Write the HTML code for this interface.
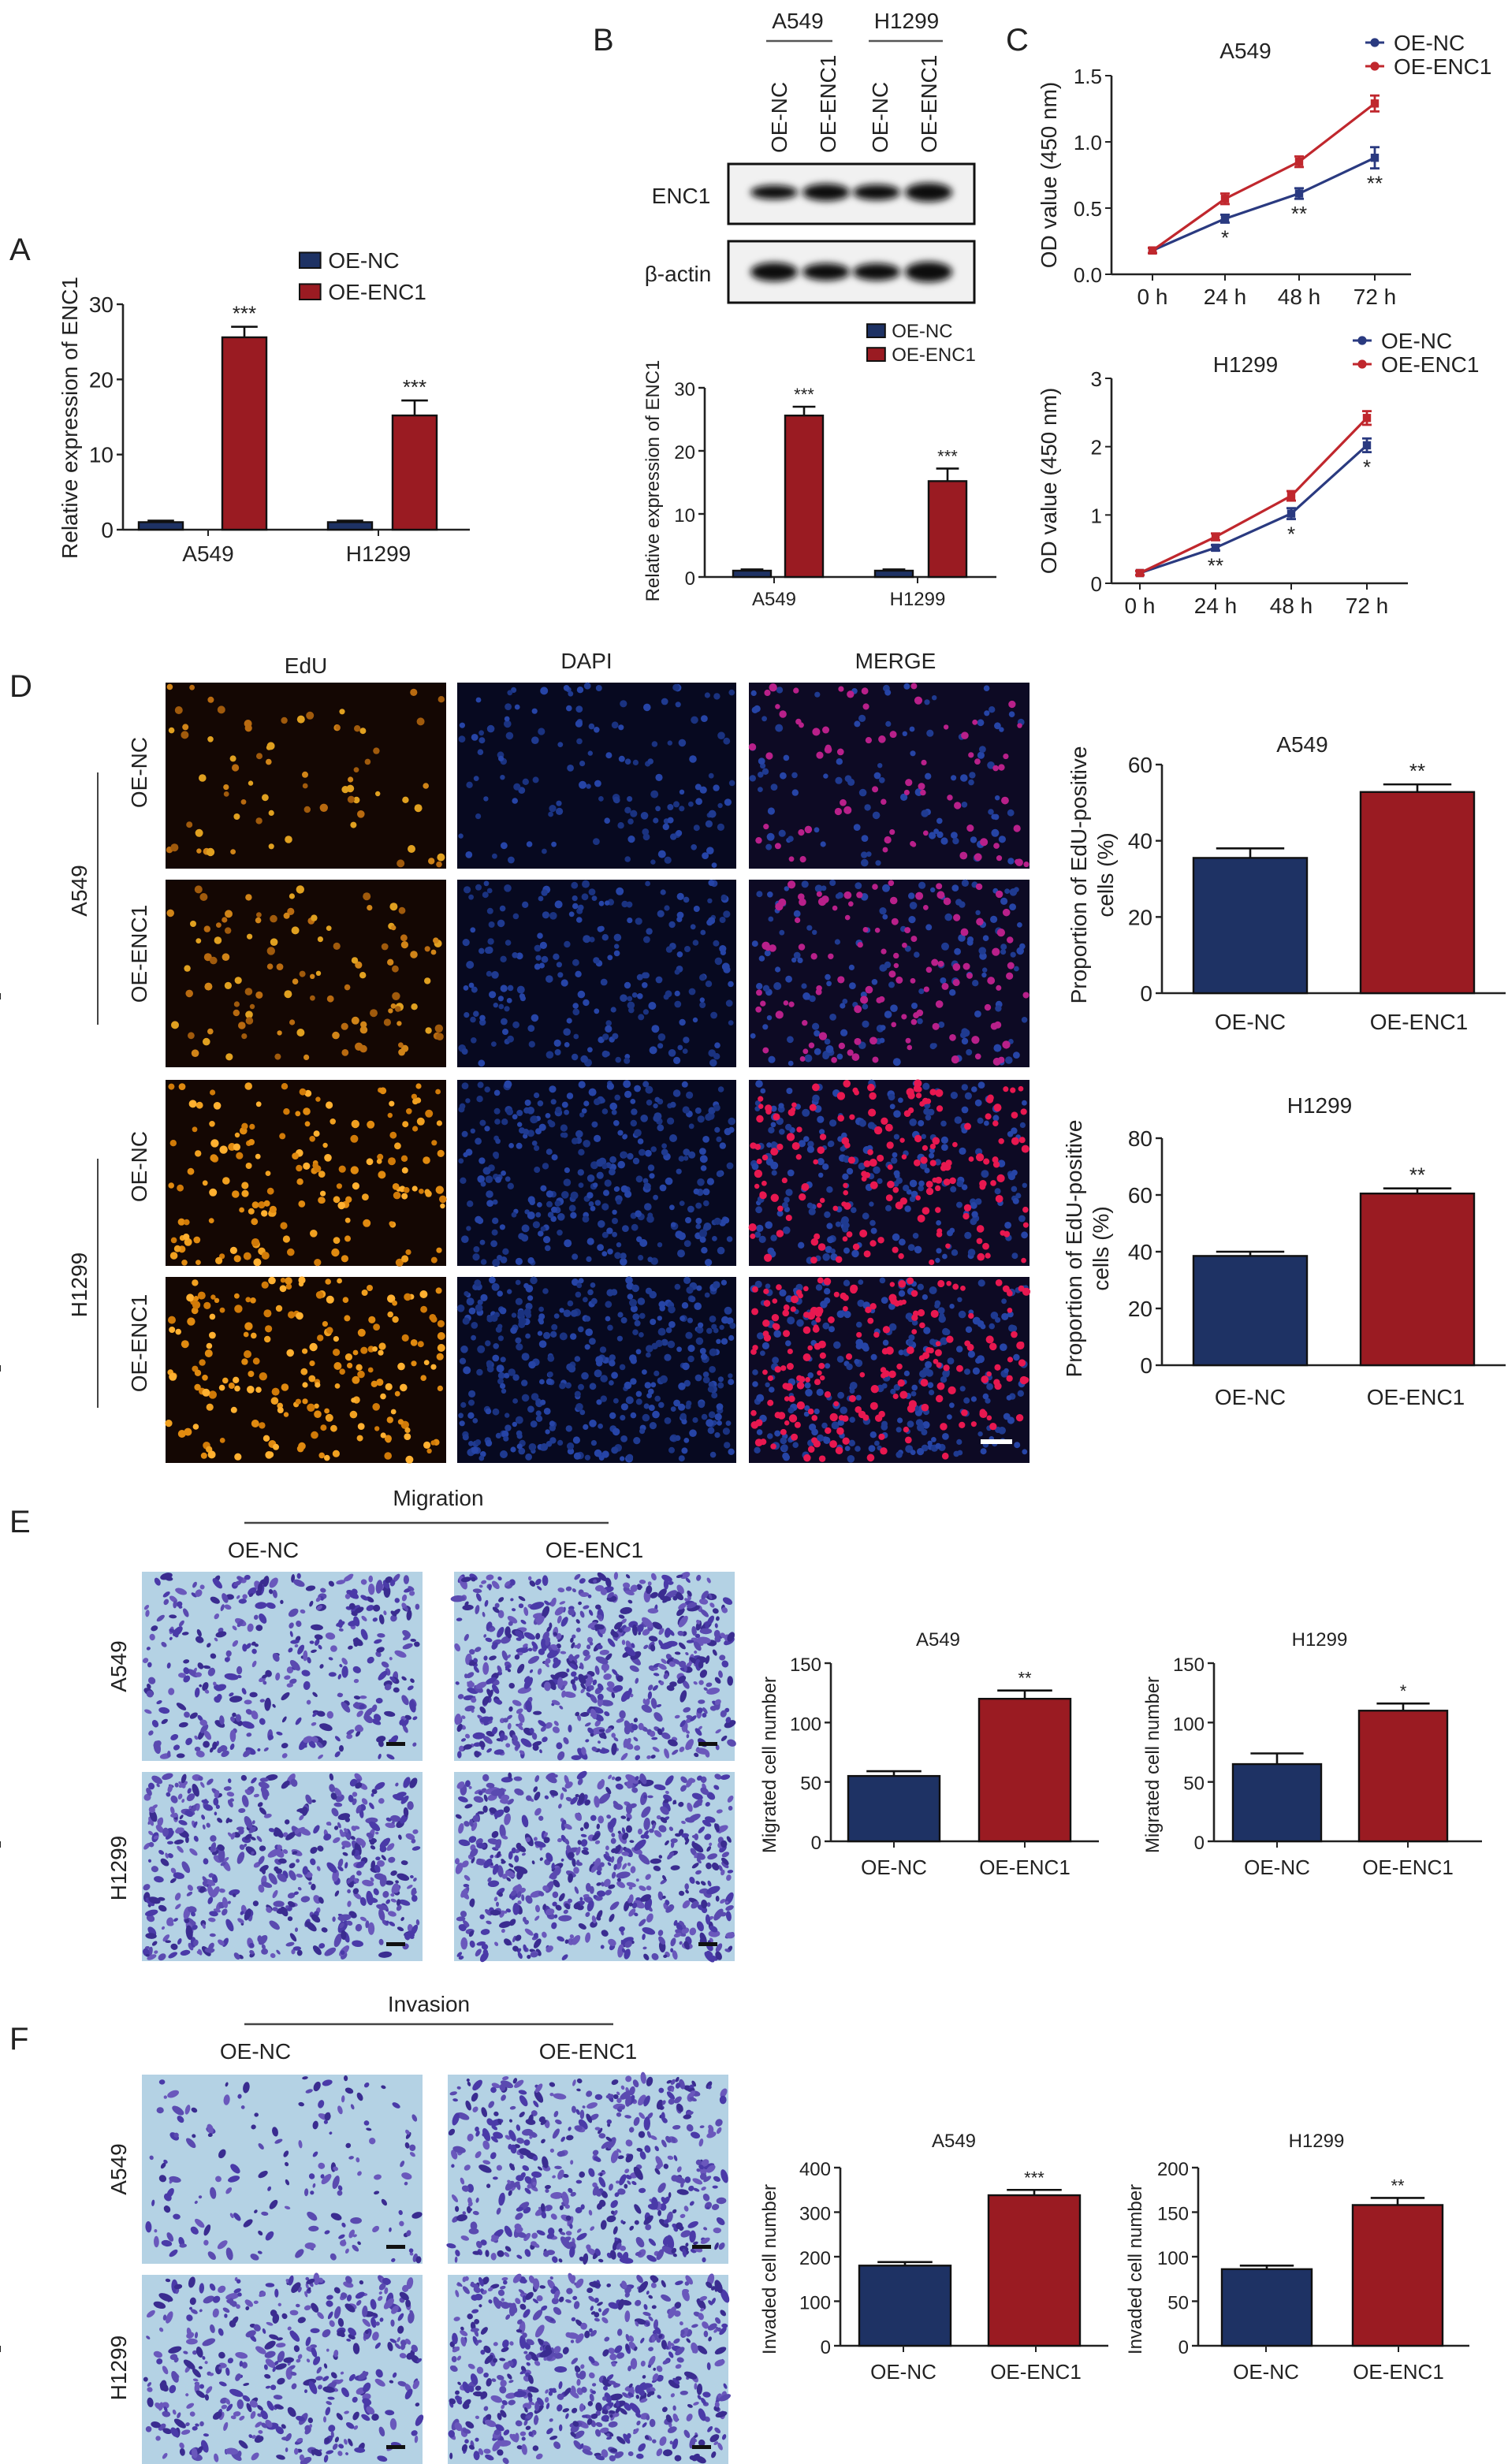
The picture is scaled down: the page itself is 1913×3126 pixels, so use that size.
<!DOCTYPE html>
<html><head><meta charset="utf-8">
<style>
html,body{margin:0;padding:0;background:#fff;}
svg{display:block;font-family:"Liberation Sans",Arial,sans-serif;}
</style></head>
<body>
<svg id="fig" width="1913" height="3126" viewBox="0 0 956.5 1563" xmlns="http://www.w3.org/2000/svg">
<rect width="956.5" height="1563" fill="#fff"/>
<g id="root"></g>
</svg>
<script>
// ---------- data ----------
const groupsAB = ["A549","H1299"];
const relNC = [1, 1];
const relENC1 = [25.6, 15.2];
const relNCerr = [0.2, 0.2];
const relENC1err = [1.4, 2.0];
const relStars = ["***","***"];
const relTicks = [0,10,20,30];

const timeLabels = ["0 h","24 h","48 h","72 h"];
const odA549NC = [0.18, 0.42, 0.61, 0.88];
const odA549ENC1 = [0.18, 0.57, 0.85, 1.29];
const odA549NCerr = [0.02, 0.03, 0.04, 0.08];
const odA549ENC1err = [0.02, 0.04, 0.04, 0.06];
const odA549Stars = ["","*","**","**"];
const odA549Ticks = [0.0,0.5,1.0,1.5];
const odH1299NC = [0.15, 0.52, 1.02, 2.02];
const odH1299ENC1 = [0.15, 0.68, 1.28, 2.42];
const odH1299NCerr = [0.03, 0.04, 0.08, 0.10];
const odH1299ENC1err = [0.03, 0.05, 0.07, 0.10];
const odH1299Stars = ["","**","*","*"];
const odH1299Ticks = [0,1,2,3];

const pairCats = ["OE-NC","OE-ENC1"];
const eduA549 = [35.5, 52.8];
const eduA549err = [2.5, 2.0];
const eduH1299 = [38.5, 60.5];
const eduH1299err = [1.5, 1.8];
const eduA549Ticks = [0,20,40,60];
const eduH1299Ticks = [0,20,40,60,80];
const migA549 = [55, 120];
const migA549err = [4, 7];
const migH1299 = [65, 110];
const migH1299err = [9, 6];
const migTicks = [0,50,100,150];
const invA549 = [180, 338];
const invA549err = [8, 12];
const invH1299 = [86, 158];
const invH1299err = [4, 8];
const invA549Ticks = [0,100,200,300,400];
const invH1299Ticks = [0,50,100,150,200];

const NAVY="#1e3264", RED="#9a1b22";
const root=document.getElementById('root');
const NS="http://www.w3.org/2000/svg";
function el(tag,attrs,parent,txt){const e=document.createElementNS(NS,tag);for(const k in attrs)e.setAttribute(k,attrs[k]);if(txt!==undefined)e.textContent=txt;(parent||root).appendChild(e);return e;}
function grp(name){const g=el('g',{});


return g;}
function text(g,x,y,s,size,opts){opts=opts||{};const t=el('text',{x:x,y:y,'font-size':size,'text-anchor':opts.anchor||'middle',fill:'#222'},g,s);
if(opts.rot!==undefined)t.setAttribute('transform',`rotate(${opts.rot} ${x} ${y})`);


return t;}

[["A",6,165],["B",376,32],["C",638,32],["D",6,442],["E",6,972],["F",6,1300]].forEach(p=>{
 const t=text(root,p[1],p[2],p[0],20,{anchor:'start'});
 
});

function groupedBars(name,ax,cfg){
 const g=grp(name);
 const {x0,x1,yTop,yBot,max,ticks,barsNC,barsENC,nc,enc,ncErr,encErr,stars,cats,catX,font,titleX,titleY,titleLines,bw}=cfg;
 const Y=v=>yBot-(v/max)*(yBot-yTop);
 el('line',{x1:x0,y1:yTop,x2:x0,y2:yBot,stroke:'#222','stroke-width':1.3},g);
 el('line',{x1:x0,y1:yBot,x2:x1,y2:yBot,stroke:'#222','stroke-width':1.3},g);
 ticks.forEach(t=>{el('line',{x1:x0-4,y1:Y(t),x2:x0,y2:Y(t),stroke:'#222','stroke-width':1.2},g);
  text(g,x0-6,Y(t)+5,String(t),font,{anchor:'end',name:'y-tick-label'});});
 for(let i=0;i<nc.length;i++){
  [[barsNC[i],nc[i],ncErr[i],NAVY,'nc'],[barsENC[i],enc[i],encErr[i],RED,'enc1']].forEach(b=>{
   const r=el('rect',{x:b[0],y:Y(b[1]),width:bw,height:yBot-Y(b[1]),fill:b[3],stroke:'#111','stroke-width':1.2},g);
   
   
   const cx=b[0]+bw/2;
   el('line',{x1:cx,y1:Y(b[1]),x2:cx,y2:Y(b[1]+b[2]),stroke:'#111','stroke-width':1.3},g);
   el('line',{x1:cx-bw*0.3,y1:Y(b[1]+b[2]),x2:cx+bw*0.3,y2:Y(b[1]+b[2]),stroke:'#111','stroke-width':1.3},g);
   if(b[4]==='enc1'&&stars[i])text(g,cx,Y(b[1]+b[2])-4,stars[i],font-1,{name:'significance'});
  });
  el('line',{x1:catX[i],y1:yBot,x2:catX[i],y2:yBot+4,stroke:'#222'},g);
  text(g,catX[i],yBot+font+6,cats[i],font,{name:'x-tick-label'});
 }
 titleLines.forEach((s,k)=>text(g,titleX+k*(font+3),titleY,s,font,{rot:-90,name:'y-axis-title'}));
 if(cfg.title)text(g,cfg.title[0],cfg.title[1],cfg.title[2],font,{name:'chart-title'});
 return g;
}
function legend(g,x,y,gap,font){
 [[NAVY,"OE-NC"],[RED,"OE-ENC1"]].forEach((l,i)=>{
  const r=el('rect',{x:x,y:y+i*gap-font*0.7,width:font*0.95,height:font*0.7,fill:l[0],stroke:'#111'},g);
  
  
  text(g,x+font*1.3,y+i*gap,l[1],font,{anchor:'start',name:'legend-entry'});
 });
}

const gA=groupedBars('chart-a',null,{x0:78,x1:298,yTop:193,yBot:336,max:30,ticks:relTicks,barsNC:[88,208],barsENC:[141,249],bw:28,nc:relNC,enc:relENC1,ncErr:relNCerr,encErr:relENC1err,stars:relStars,cats:groupsAB,catX:[132,240],font:14,titleX:49,titleY:265,titleLines:["Relative expression of ENC1"]});
legend(gA,190,170,20,14);
const gB=groupedBars('chart-b',null,{x0:447,x1:632,yTop:246,yBot:366,max:30,ticks:relTicks,barsNC:[465,555],barsENC:[498,589],bw:24,nc:relNC,enc:relENC1,ncErr:relNCerr,encErr:relENC1err,stars:relStars,cats:groupsAB,catX:[491,582],font:12,titleX:418,titleY:305,titleLines:["Relative expression of ENC1"]});
legend(gB,550,214,15,12);

(function(){
 const g=grp('western-blot');
 text(g,506,18,"A549",14,{name:'blot-group-label'});
 text(g,575,18,"H1299",14,{name:'blot-group-label'});
 el('line',{x1:486,y1:26,x2:528,y2:26,stroke:'#555','stroke-width':1.2},g);
 el('line',{x1:551,y1:26,x2:598,y2:26,stroke:'#555','stroke-width':1.2},g);
 const lanes=[494,525,558,589];const ln=["OE-NC","OE-ENC1","OE-NC","OE-ENC1"];
 lanes.forEach((x,i)=>text(g,x+5,97,ln[i],14,{anchor:'start',rot:-90,name:'lane-label'}));
 const defs=el('defs',{},g);
 const f=el('filter',{id:'blur',x:'-20%',y:'-50%',width:'140%',height:'200%'},defs);
 el('feGaussianBlur',{stdDeviation:'2.2'},f);
 [[104,142,"ENC1",[7,9,8,10]],[153,192,"β-actin",[10,9,9,11]]].forEach(b=>{
  el('rect',{x:462,y:b[0],width:156,height:b[1]-b[0],fill:'#f1f1f1',stroke:'#111','stroke-width':1.5},g);
  text(g,b[2]==="ENC1"?432:430,(b[0]+b[1])/2+6,b[2],14,{name:'blot-row-label'});
  const bx=[491,524,556,589];
  bx.forEach((x,i)=>{el('ellipse',{cx:x,cy:(b[0]+b[1])/2+(b[2]==="ENC1"?-1:0),rx:15,ry:b[3][i]/2+1,fill:'#111',filter:'url(#blur)'},g);});
 });
})();

function lineChart(name,cfg){
 const g=grp(name);
 const {x0,x1,yTop,yBot,max,ticks,xs,nc,enc,ncE,encE,stars,title,leg}=cfg;
 const Y=v=>yBot-(v/max)*(yBot-yTop);
 el('line',{x1:x0,y1:yTop,x2:x0,y2:yBot,stroke:'#222','stroke-width':1.3},g);
 el('line',{x1:x0,y1:yBot,x2:x1,y2:yBot,stroke:'#222','stroke-width':1.3},g);
 ticks.forEach(t=>{el('line',{x1:x0-4,y1:Y(t),x2:x0,y2:Y(t),stroke:'#222'},g);
  text(g,x0-6,Y(t)+5,cfg.fmt(t),13,{anchor:'end',name:'y-tick-label'});});
 timeLabels.forEach((s,i)=>{el('line',{x1:xs[i],y1:yBot,x2:xs[i],y2:yBot+4,stroke:'#222'},g);text(g,xs[i],yBot+19,s,14,{name:'x-tick-label'});});
 [[nc,ncE,"#2a3a80",'nc'],[enc,encE,"#c0272d",'enc1']].forEach(s=>{
  const p=el('polyline',{points:s[0].map((v,i)=>xs[i]+','+Y(v)).join(' '),fill:'none',stroke:s[2],'stroke-width':1.6},g);
  
  
  s[0].forEach((v,i)=>{
   el('line',{x1:xs[i],y1:Y(v-s[1][i]),x2:xs[i],y2:Y(v+s[1][i]),stroke:s[2],'stroke-width':1.4},g);
   el('line',{x1:xs[i]-3,y1:Y(v-s[1][i]),x2:xs[i]+3,y2:Y(v-s[1][i]),stroke:s[2],'stroke-width':1.4},g);
   el('line',{x1:xs[i]-3,y1:Y(v+s[1][i]),x2:xs[i]+3,y2:Y(v+s[1][i]),stroke:s[2],'stroke-width':1.4},g);
   const c=el('rect',{x:xs[i]-2.6,y:Y(v)-2.6,width:5.2,height:5.2,fill:s[2]},g);
   
   
  });
 });
 stars.forEach((s,i)=>{if(s)text(g,xs[i],Y(nc[i]-ncE[i])+14,s,13,{name:'significance'});});
 text(g,title[0],title[1],title[2],14,{name:'chart-title'});
 text(g,cfg.ytx,(yTop+yBot)/2,"OD value (450 nm)",14,{rot:-90,name:'y-axis-title'});
 [["#2a3a80","OE-NC"],["#c0272d","OE-ENC1"]].forEach((l,i)=>{
  const yy=leg[1]+i*15;
  el('line',{x1:leg[0]-6,y1:yy-5,x2:leg[0]+6,y2:yy-5,stroke:l[0],'stroke-width':1.5},g);
  el('circle',{cx:leg[0],cy:yy-5,r:2.8,fill:l[0]},g);
  text(g,leg[0]+12,yy,l[1],14,{anchor:'start',name:'legend-entry'});
 });
}
lineChart('chart-c-a549',{x0:705,x1:895,yTop:48,yBot:174,max:1.5,ticks:odA549Ticks,xs:[731,777,824,872],nc:odA549NC,enc:odA549ENC1,ncE:odA549NCerr,encE:odA549ENC1err,stars:odA549Stars,title:[790,37,"A549"],leg:[872,32],ytx:670,fmt:t=>t.toFixed(1)});
lineChart('chart-c-h1299',{x0:705,x1:893,yTop:240,yBot:370,max:3,ticks:odH1299Ticks,xs:[723,771,819,867],nc:odH1299NC,enc:odH1299ENC1,ncE:odH1299NCerr,encE:odH1299ENC1err,stars:odH1299Stars,title:[790,236,"H1299"],leg:[864,221],ytx:670,fmt:t=>String(t)});

let seed=7;function rnd(){seed=(seed*16807)%2147483647;return seed/2147483647;}
function micro(name,x,y,w,h,bg,colors,n,rmin,rmax,elong){
 const g=grp(name);
 el('rect',{x:x,y:y,width:w,height:h,fill:bg},g);
 for(let i=0;i<n;i++){
  const c=colors[Math.floor(rnd()*colors.length)];
  const r=rmin+rnd()*(rmax-rmin);
  const cx=(x+2+rnd()*(w-4)).toFixed(1), cy=(y+2+rnd()*(h-4)).toFixed(1);
  const a=elong?Math.floor(rnd()*180):0;
  el('ellipse',{cx:cx,cy:cy,rx:(r*(elong?1+rnd()*1.2:1)).toFixed(1),ry:r.toFixed(1),fill:c,transform:elong?`rotate(${a} ${cx} ${cy})`:''},g);
 }
 return g;
}
const dCols=[[105,178],[290,177],[475,178]];const dRows=[[433,118],[558,119],[685,118],[810,118]];
const dens=[70,110,170,200];
text(root,194,427,"EdU",14,{name:'column-title'});text(root,372,424,"DAPI",14,{name:'column-title'});text(root,568,424,"MERGE",14,{name:'column-title'});
dRows.forEach((r,ri)=>{
 micro('edu-image-'+ri,dCols[0][0],r[0],dCols[0][1],r[1],'#140703',ri<2?['#b86a10','#d08418','#a05a0c','#e0a020']:['#e08a10','#f0a020','#d07a08','#ffb030'],dens[ri],1.6,2.6);
 micro('dapi-image-'+ri,dCols[1][0],r[0],dCols[1][1],r[1],'#070920',['#1f3a90','#2644a6','#1a3280'],dens[ri]*2,1.6,2.5);
 const m=micro('merge-image-'+ri,dCols[2][0],r[0],dCols[2][1],r[1],'#0d0a24',['#1f3a90','#2644a6'],dens[ri]*1.4,1.6,2.5);
 for(let i=0;i<dens[ri];i++)el('circle',{cx:dCols[2][0]+2+rnd()*174,cy:r[0]+2+rnd()*114,r:1.6+rnd()*1.0,fill:ri<2?'#b8208a':'#e81850'},m);
});
el('rect',{x:622,y:913,width:20,height:3,fill:'#fff'});
[["OE-NC",490],["OE-ENC1",605],["OE-NC",740],["OE-ENC1",852]].forEach(l=>text(root,93,l[1],l[0],14,{rot:-90,name:'row-label'}));
text(root,55,565,"A549",14,{rot:-90,name:'cell-line-label'});text(root,55,815,"H1299",14,{rot:-90,name:'cell-line-label'});
el('line',{x1:62,y1:490,x2:62,y2:650,stroke:'#444'});el('line',{x1:62,y1:735,x2:62,y2:893,stroke:'#444'});

const gD1=groupedBars('chart-d-a549',null,{x0:737,x1:955,yTop:485,yBot:630,max:60,ticks:eduA549Ticks,barsNC:[757],barsENC:[863],bw:72,nc:[eduA549[0]],enc:[eduA549[1]],ncErr:[eduA549err[0]],encErr:[eduA549err[1]],stars:["**"],cats:[],catX:[],font:14,titleX:689,titleY:555,titleLines:["Proportion of EdU-positive","cells (%)"],title:[826,477,"A549"]});
text(gD1,793,653,pairCats[0],14,{name:'x-tick-label'});text(gD1,900,653,pairCats[1],14,{name:'x-tick-label'});
const gD2=groupedBars('chart-d-h1299',null,{x0:737,x1:955,yTop:722,yBot:866,max:80,ticks:eduH1299Ticks,barsNC:[757],barsENC:[863],bw:72,nc:[eduH1299[0]],enc:[eduH1299[1]],ncErr:[eduH1299err[0]],encErr:[eduH1299err[1]],stars:["**"],cats:[],catX:[],font:14,titleX:686,titleY:792,titleLines:["Proportion of EdU-positive","cells (%)"],title:[837,706,"H1299"]});
text(gD2,793,891,pairCats[0],14,{name:'x-tick-label'});text(gD2,898,891,pairCats[1],14,{name:'x-tick-label'});

function stainImgs(prefix,cols,rows,counts){
 rows.forEach((r,ri)=>cols.forEach((c,ci)=>{
  const g=micro(prefix+'-image-'+ri+'-'+ci,c,r,178,120,'#b4d2e4',['#5a4ab0','#4a3aa8','#6a58bc','#3a2c90'],counts[ri][ci],0.9,2.2,true);
  el('rect',{x:c+155,y:r+108,width:12,height:2.5,fill:'#111'},g);
 }));
}
text(root,278,955,"Migration",14,{name:'section-title'});el('line',{x1:155,y1:966,x2:386,y2:966,stroke:'#444','stroke-width':1.2});
text(root,167,988,"OE-NC",14,{name:'column-title'});text(root,377,988,"OE-ENC1",14,{name:'column-title'});
stainImgs('migration',[90,288],[997,1124],[[380,650],[520,600]]);
text(root,80,1057,"A549",14,{rot:-90,name:'row-label'});text(root,80,1185,"H1299",14,{rot:-90,name:'row-label'});
text(root,272,1276,"Invasion",14,{name:'section-title'});el('line',{x1:155,y1:1284,x2:389,y2:1284,stroke:'#444','stroke-width':1.2});
text(root,162,1306,"OE-NC",14,{name:'column-title'});text(root,373,1306,"OE-ENC1",14,{name:'column-title'});
stainImgs('invasion',[90,284],[1316,1443],[[160,480],[420,600]]);
text(root,80,1376,"A549",14,{rot:-90,name:'row-label'});text(root,80,1502,"H1299",14,{rot:-90,name:'row-label'});

function smallPair(name,x0,x1,yTop,yBot,max,ticks,bx,bw,vals,errs,star,title,ytitle,ytx,catX){
 const g=groupedBars(name,null,{x0:x0,x1:x1,yTop:yTop,yBot:yBot,max:max,ticks:ticks,barsNC:[bx[0]],barsENC:[bx[1]],bw:bw,nc:[vals[0]],enc:[vals[1]],ncErr:[errs[0]],encErr:[errs[1]],stars:[star],cats:[],catX:[],font:12,titleX:ytx,titleY:(yTop+yBot)/2+8,titleLines:[ytitle],title:title});
 el('line',{x1:catX[0],y1:yBot,x2:catX[0],y2:yBot+4,stroke:'#222'},g);el('line',{x1:catX[1],y1:yBot,x2:catX[1],y2:yBot+4,stroke:'#222'},g);
 text(g,catX[0],yBot+21,pairCats[0],13,{name:'x-tick-label'});text(g,catX[1],yBot+21,pairCats[1],13,{name:'x-tick-label'});
}
smallPair('chart-e-a549',527,697,1055,1168,150,migTicks,[538,621],58,migA549,migA549err,"**",[595,1044,"A549"],"Migrated cell number",492,[567,650]);
smallPair('chart-e-h1299',770,940,1055,1168,150,migTicks,[782,862],56,migH1299,migH1299err,"*",[837,1044,"H1299"],"Migrated cell number",735,[810,893]);
smallPair('chart-f-a549',533,703,1375,1488,400,invA549Ticks,[545,627],58,invA549,invA549err,"***",[605,1362,"A549"],"Invaded cell number",492,[573,657]);
smallPair('chart-f-h1299',760,932,1375,1488,200,invH1299Ticks,[775,858],57,invH1299,invH1299err,"**",[835,1362,"H1299"],"Invaded cell number",724,[803,887]);
</script>
</body></html>
